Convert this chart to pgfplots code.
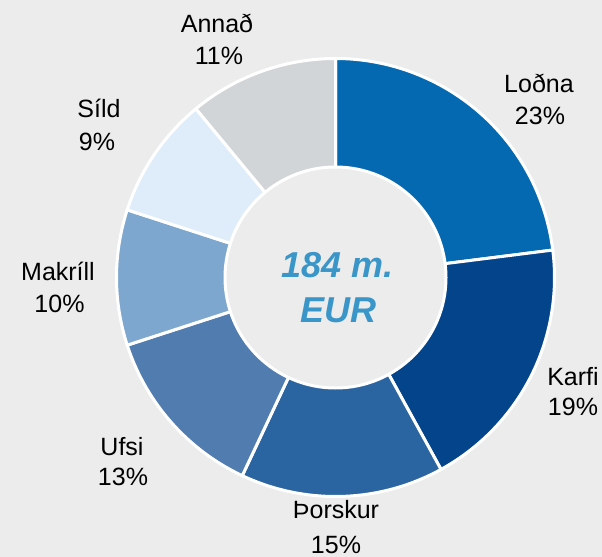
\documentclass[border=0pt]{standalone}
\usepackage{pgfplots}
\pgfplotsset{compat=1.18}
\usepackage{fontspec}
\setmainfont{Liberation Sans}
\definecolor{bg}{HTML}{ECECEC}
\definecolor{cLodna}{HTML}{0469B1}
\definecolor{cKarfi}{HTML}{03448A}
\definecolor{cThorskur}{HTML}{2A64A1}
\definecolor{cUfsi}{HTML}{517CAF}
\definecolor{cMakrill}{HTML}{7EA7CF}
\definecolor{cSild}{HTML}{DFEDFA}
\definecolor{cAnnad}{HTML}{D1D5D8}
\definecolor{cCenter}{HTML}{3A96C8}
% shares (percent): Lodna 23, Karfi 19, Thorskur 15, Ufsi 13, Makrill 10, Sild 9, Annad 11
% slice angles (start at 90 deg, clockwise, 3.6 deg per percent)
\newcommand{\slice}[3]{%
  \addplot[fill=#3, draw=white, line width=3bp, domain=#1:#2, samples=90, variable=\t]
    ({335.5+219*cos(\t)},{277.5-219*sin(\t)}) -- (axis cs:335.5,277.5) -- cycle;}
\tikzset{lbl/.style={anchor=base, font=\fontsize{25bp}{30bp}\selectfont, text=black, inner sep=0pt}}
\begin{document}
\begin{tikzpicture}
\fill[bg] (0,0) rectangle (602bp,557bp);
\begin{axis}[
  scale only axis, width=602bp, height=557bp,
  xmin=0, xmax=602, ymin=0, ymax=557, y dir=reverse,
  hide axis, clip=false,
]
\slice{7.2}{90}{cLodna}
\slice{-61.2}{7.2}{cKarfi}
\slice{-115.2}{-61.2}{cThorskur}
\slice{-162}{-115.2}{cUfsi}
\slice{-198}{-162}{cMakrill}
\slice{-230.4}{-198}{cSild}
\slice{-270}{-230.4}{cAnnad}
\draw[fill=bg, draw=white, line width=3bp] (axis cs:335.5,277.5) circle[radius=110.5bp];
\node[anchor=base, text=cCenter, font=\fontsize{36bp}{40bp}\selectfont\bfseries\itshape, inner sep=0pt] at (axis cs:338,277) {184 m.};
\node[anchor=base, text=cCenter, font=\fontsize{36bp}{40bp}\selectfont\bfseries\itshape, inner sep=0pt] at (axis cs:338,322) {EUR};
\node[lbl] at (axis cs:217,33) {Annað};
\node[lbl] at (axis cs:219,65) {11\%};
\node[lbl] at (axis cs:539,93) {Loðna};
\node[lbl] at (axis cs:540,125) {23\%};
\node[lbl] at (axis cs:99,118) {Síld};
\node[lbl] at (axis cs:97,150) {9\%};
\node[lbl] at (axis cs:58,280) {Makríll};
\node[lbl] at (axis cs:59.5,312) {10\%};
\node[lbl] at (axis cs:122,455) {Ufsi};
\node[lbl] at (axis cs:123,485) {13\%};
\node[lbl] at (axis cs:573,385) {Karfi};
\node[lbl] at (axis cs:573,415) {19\%};
\node[lbl] at (axis cs:336,518) {Þorskur};
\node[lbl] at (axis cs:336,553) {15\%};
\end{axis}
\end{tikzpicture}
\end{document}
